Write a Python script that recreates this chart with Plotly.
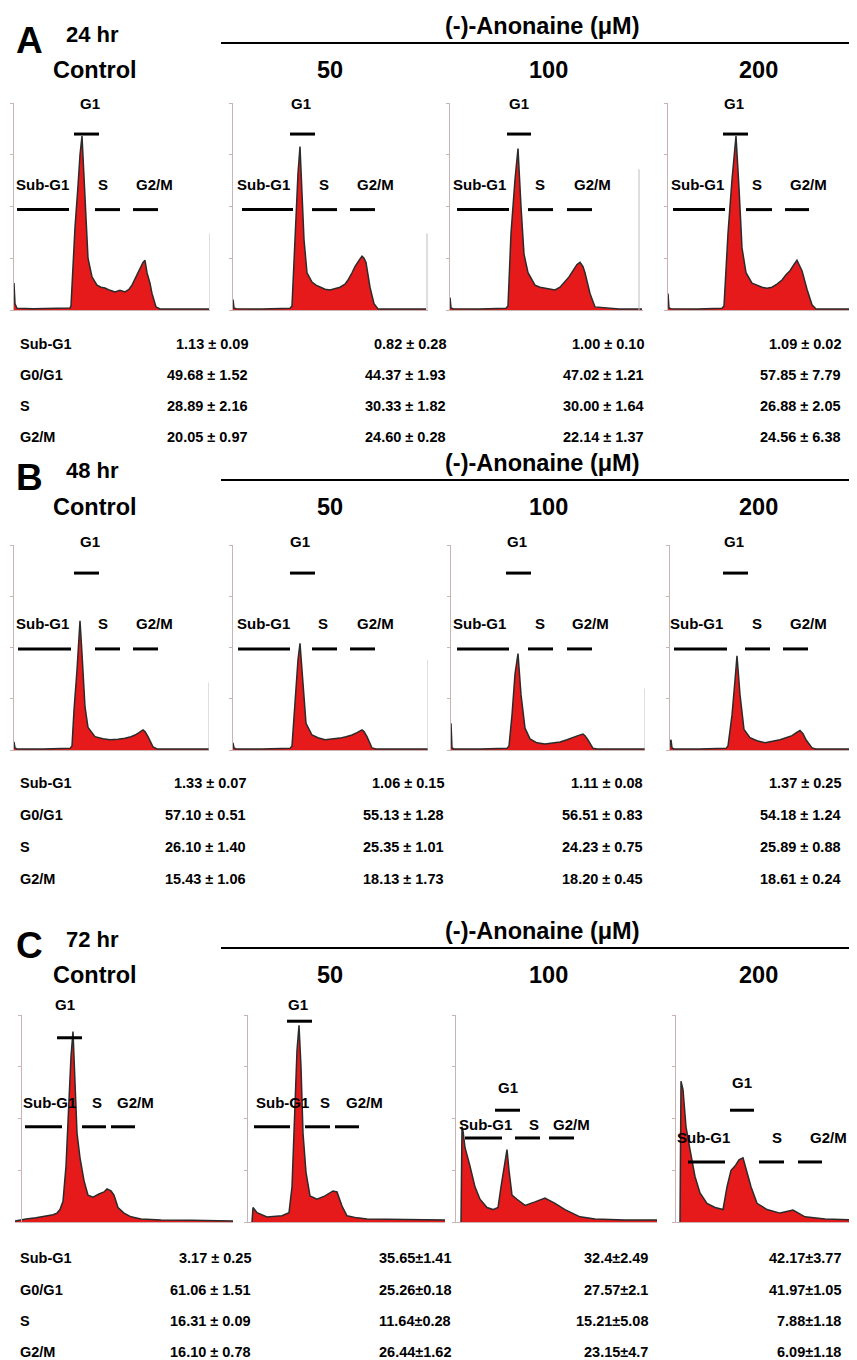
import plotly.graph_objects as go

# ---------------- DATA ----------------
# Histogram data: channel (DNA content, arbitrary units) and counts (% of full scale)
A_CTRL_CH = [0, 1, 2, 4, 20, 40, 57, 58, 60, 62, 65, 67, 69, 71, 73, 75, 79, 84, 88, 92, 97, 102, 107, 112, 116, 119, 122, 125, 128, 130, 132, 134, 137, 139, 143, 147, 170, 196]
A_CTRL_PCT = [0, 13, 3, 0.8, 0.6, 0.8, 1, 2, 20, 40, 60, 75, 84, 65, 40, 25, 16, 12, 11, 10.6, 9.5, 8.7, 9.5, 8.7, 10, 12, 15, 18, 21, 23, 24, 18, 13, 8, 1.5, 0.5, 0.5, 0.5]
A_50_CH = [0, 1, 2, 4, 30, 58, 60, 63, 66, 68, 70, 72, 75, 80, 84, 88, 93, 98, 103, 108, 113, 116, 120, 123, 127, 130, 132, 134, 138, 142, 146, 170, 194]
A_50_PCT = [0, 5, 1, 0.6, 0.5, 0.8, 2, 37, 66, 79, 59, 34, 18, 13.5, 12, 11, 10, 9.7, 10.5, 11, 12.5, 14.5, 18, 21, 24, 26, 25, 23, 11, 3, 0.5, 0.5, 0.5]
A_100_CH = [0, 1, 2, 4, 30, 57, 59, 62, 66, 69, 72, 75, 79, 86, 91, 96, 101, 106, 111, 116, 120, 124, 128, 131, 134, 136, 141, 146, 170, 193]
A_100_PCT = [0, 6, 1, 0.6, 0.5, 0.8, 2, 37, 63, 78, 50, 27, 18, 12, 11, 10.6, 10, 9.7, 11, 13.5, 16, 19, 22, 23, 21, 18, 8, 1.5, 0.5, 0.5]
A_200_CH = [0, 1, 2, 4, 30, 55, 57, 61, 65, 69, 72, 75, 79, 85, 90, 95, 100, 105, 110, 115, 119, 123, 127, 130, 132, 135, 140, 145, 149, 170, 190]
A_200_PCT = [0, 8, 1, 0.6, 0.5, 0.8, 2, 37, 63, 84, 59, 30, 18, 13, 12, 11, 10.5, 11, 12.5, 14.5, 17, 19, 22, 24, 22, 19, 10, 2.5, 0.5, 0.5, 0.5]

B_CTRL_CH = [0, 1, 2, 4, 30, 57, 59, 61, 64, 67, 69, 72, 75, 82, 90, 97, 105, 112, 118, 122, 126, 130, 132, 135, 140, 144, 170, 196]
B_CTRL_PCT = [0, 4, 1, 0.5, 0.5, 0.8, 2, 19.5, 39, 63, 47, 21, 11, 6.5, 5.5, 5, 5.3, 5.7, 6.5, 7.3, 8.5, 9.8, 9, 6.5, 1.5, 0.5, 0.5, 0.5]
B_50_CH = [0, 1, 2, 4, 30, 58, 60, 63, 66, 68, 71, 74, 80, 86, 93, 100, 108, 114, 120, 125, 130, 132, 135, 140, 144, 170, 196]
B_50_PCT = [0, 3.5, 1, 0.5, 0.5, 0.8, 2, 23, 44, 52, 33, 13, 7.3, 6, 5, 5.3, 5.8, 6.5, 7.3, 8.5, 9.8, 9, 6.5, 1, 0.5, 0.5, 0.5]
B_100_CH = [0, 1, 2, 4, 30, 57, 59, 62, 65, 68, 71, 75, 80, 87, 95, 103, 110, 117, 123, 128, 133, 135, 138, 143, 147, 170, 195]
B_100_PCT = [0, 13, 1, 0.5, 0.5, 0.8, 2, 17, 37, 47, 27, 10.7, 5.4, 3.5, 2.9, 3.3, 3.9, 5, 6.3, 7, 7.8, 7, 4.9, 0.8, 0.5, 0.5, 0.5]
B_200_CH = [0, 2, 3, 5, 30, 57, 59, 63, 66, 68, 71, 75, 81, 88, 96, 104, 111, 117, 123, 127, 131, 134, 137, 143, 147, 170, 188]
B_200_PCT = [0, 5, 1, 0.5, 0.5, 0.8, 2, 17, 34, 46, 27, 10, 6, 4.5, 3.5, 4.2, 5, 6, 7, 8.3, 9.5, 8, 5, 1, 0.5, 0.5, 0.5]

C_CTRL_CH = [-6, 5, 15, 25, 32, 36, 39, 42, 45, 48, 50, 52, 54, 56, 59, 63, 67, 72, 78, 83, 86, 90, 93, 97, 103, 110, 120, 140, 170, 212]
C_CTRL_PCT = [0.5, 1.5, 2, 3, 3.5, 4.3, 6, 10, 27, 59, 80, 92, 67, 43, 31, 20, 13, 12, 13.5, 14.5, 16, 15, 13, 7, 4.3, 2.5, 1.5, 1, 0.8, 0.5]
C_50_CH = [5, 6, 10, 20, 35, 42, 45, 48, 50, 52, 54, 56, 59, 63, 70, 78, 82, 86, 90, 95, 100, 110, 120, 150, 198]
C_50_PCT = [0, 7, 4.5, 2.4, 3, 4.5, 17, 59, 83, 95, 75, 43, 24, 12.6, 11, 12.6, 14, 15, 14.5, 7.7, 3, 2, 1.5, 1.2, 1]
C_100_CH = [6, 7, 8, 10, 15, 20, 25, 32, 38, 43, 46, 50, 52, 54, 57, 62, 70, 80, 90, 100, 110, 125, 140, 170, 202]
C_100_PCT = [0, 46, 44, 36, 27, 17, 11, 7, 6, 7, 17, 30, 35, 25, 13, 11, 8, 9.7, 11.6, 9, 6, 2.5, 1.5, 1, 1]
C_200_CH = [5, 6, 8, 11, 15, 20, 25, 32, 40, 48, 52, 56, 60, 64, 68, 72, 76, 82, 92, 105, 118, 130, 150, 182]
C_200_PCT = [0, 68, 64, 46, 35, 22, 14, 9, 7, 6, 17, 25, 27, 30, 31, 24, 17, 9, 6, 4.3, 5.8, 2.5, 1.5, 1]

# last-channel (overflow) counts, % of full scale; None = not visible
A_OVERFLOW = [(197, 37), (195, 37), (190, 68), None]
B_OVERFLOW = [(196, 33), (196, 44), (195, 30), None]

PHASES = ["Sub-G1", "G1", "S", "G2/M"]
# gate marker ranges in channel units: (start, end) per phase
A_GATES = [[(4, 56), (61, 86), (82, 107), (120, 145)],
           [(10, 61), (58, 83), (80, 105), (118, 143)],
           [(8, 60), (58, 82), (79, 104), (118, 143)],
           [(6, 58), (56, 81), (79, 105), (118, 142)]]
B_GATES = [[(5, 58), (61, 86), (82, 107), (120, 145)],
           [(6, 58), (58, 83), (80, 105), (118, 143)],
           [(7, 59), (56, 81), (78, 103), (117, 142)],
           [(5, 58), (54, 79), (76, 101), (114, 139)]]
C_GATES = [[(4, 41), (36, 61), (61, 85), (90, 114)],
           [(7, 43), (40, 65), (58, 83), (88, 112)],
           [(10, 47), (40, 65), (60, 85), (94, 119)],
           [(13, 50), (55, 79), (84, 109), (123, 147)]]

COLUMNS = ["Control", "50", "100", "200"]
TIMES = ["24 hr", "48 hr", "72 hr"]
LETTERS = ["A", "B", "C"]
DRUG = "(-)-Anonaine (\u03bcM)"
ROW_LABELS = ["Sub-G1", "G0/G1", "S", "G2/M"]
A_TABLE = [["1.13 \u00b1 0.09", "0.82 \u00b1 0.28", "1.00 \u00b1 0.10", "1.09 \u00b1 0.02"],
           ["49.68 \u00b1 1.52", "44.37 \u00b1 1.93", "47.02 \u00b1 1.21", "57.85 \u00b1 7.79"],
           ["28.89 \u00b1 2.16", "30.33 \u00b1 1.82", "30.00 \u00b1 1.64", "26.88 \u00b1 2.05"],
           ["20.05 \u00b1 0.97", "24.60 \u00b1 0.28", "22.14 \u00b1 1.37", "24.56 \u00b1 6.38"]]
B_TABLE = [["1.33 \u00b1 0.07", "1.06 \u00b1 0.15", "1.11 \u00b1 0.08", "1.37 \u00b1 0.25"],
           ["57.10 \u00b1 0.51", "55.13 \u00b1 1.28", "56.51 \u00b1 0.83", "54.18 \u00b1 1.24"],
           ["26.10 \u00b1 1.40", "25.35 \u00b1 1.01", "24.23 \u00b1 0.75", "25.89 \u00b1 0.88"],
           ["15.43 \u00b1 1.06", "18.13 \u00b1 1.73", "18.20 \u00b1 0.45", "18.61 \u00b1 0.24"]]
C_TABLE = [["3.17 \u00b1 0.25", "35.65\u00b11.41", "32.4\u00b12.49", "42.17\u00b13.77"],
           ["61.06 \u00b1 1.51", "25.26\u00b10.18", "27.57\u00b12.1", "41.97\u00b11.05"],
           ["16.31 \u00b1 0.09", "11.64\u00b10.28", "15.21\u00b15.08", "7.88\u00b11.18"],
           ["16.10 \u00b1 0.78", "26.44\u00b11.62", "23.15\u00b14.7", "6.09\u00b11.18"]]

HISTS = [[(A_CTRL_CH, A_CTRL_PCT), (A_50_CH, A_50_PCT), (A_100_CH, A_100_PCT), (A_200_CH, A_200_PCT)],
         [(B_CTRL_CH, B_CTRL_PCT), (B_50_CH, B_50_PCT), (B_100_CH, B_100_PCT), (B_200_CH, B_200_PCT)],
         [(C_CTRL_CH, C_CTRL_PCT), (C_50_CH, C_50_PCT), (C_100_CH, C_100_PCT), (C_200_CH, C_200_PCT)]]
OVERFLOWS = [A_OVERFLOW, B_OVERFLOW, [None] * 4]
GATES = [A_GATES, B_GATES, C_GATES]
TABLES = [A_TABLE, B_TABLE, C_TABLE]

# ---------------- LAYOUT (pixels of the 857x1360 page) ----------------
PAGE_W, PAGE_H = 857, 1360
OFF = 8  # default page body margin
W, H = PAGE_W - OFF, PAGE_H - OFF
FONT = "Liberation Sans, Arial, Helvetica, sans-serif"
RED = "#e61a1a"
AXC = "#c9b3b3"

PANELS = [
    dict(dy=0, top=103, base=310,
         plots=[(13, 13, 210), (232, 232, 428), (449, 449, 643), (667, 667, 857)],
         # gate label text positions: (x channel, y pct) and bar heights pct
         text=[[(29, 60.4), (77, 100), (90, 60.4), (141, 60.4)],
               [(31, 60.4), (69, 100), (92, 60.4), (143, 60.4)],
               [(30, 60.4), (70, 100), (91, 60.4), (143, 60.4)],
               [(30, 60.4), (67, 100), (90, 60.4), (141, 60.4)]],
         bary=[[48.5, 85, 48.5, 48.5]] * 4,
         rows=[344, 375, 406, 437], cols=[250, 448, 646, 843]),
    dict(dy=437, top=545, base=750,
         plots=[(13, 13, 209), (232, 232, 428), (450, 450, 645), (669, 669, 857)],
         text=[[(29, 61.5), (77, 101.5), (90, 61.5), (141, 61.5)],
               [(31, 61.5), (68, 101.5), (91, 61.5), (143, 61.5)],
               [(29, 61.5), (67, 101.5), (90, 61.5), (140, 61.5)],
               [(27, 61.5), (65, 101.5), (88, 61.5), (139, 61.5)]],
         bary=[[49.3, 86.3, 49.3, 49.3]] * 4,
         rows=[783, 815, 847, 879], cols=[248, 446, 645, 843]),
    dict(dy=905, top=1015, base=1222,
         plots=[(21, 15, 233), (247, 247, 445), (455, 455, 657), (675, 675, 857)],
         text=[[(28, 57.5), (44, 105), (76, 57.5), (114, 57.5)],
               [(35, 57.5), (51, 105), (78, 57.5), (117, 57.5)],
               [(31, 47), (53, 65), (79, 47), (116, 47)],
               [(28, 41), (67, 67.6), (102, 41), (153, 41)]],
         bary=[[46, 89, 46, 46], [46, 97, 46, 46], [40.6, 54, 40.6, 40.6], [29, 54, 29, 29]],
         rows=[1258, 1290, 1321, 1352], cols=[253, 453, 650, 843]),
]
COL_X = [95, 330, 548, 758]


def px(x):
    return (x - OFF) / W


def py(y):
    return 1 - (y - OFF) / H


fig = go.Figure()
layout = dict(width=W, height=H, margin=dict(l=0, r=0, t=0, b=0, pad=0),
              paper_bgcolor="white", plot_bgcolor="rgba(0,0,0,0)",
              showlegend=False, annotations=[], shapes=[])
ann = layout["annotations"]


def text(s, x, y, size, anchor="center", family=FONT):
    ann.append(dict(text=s, x=px(x), y=py(y), xref="paper", yref="paper",
                    xanchor=anchor, yanchor="middle", showarrow=False,
                    font=dict(family=family, size=size, color="black", weight="bold")))


idx = 0
for p, panel in enumerate(PANELS):
    dy = panel["dy"]
    # header
    text(LETTERS[p], 14, 40 + dy, 37, "left")
    text(TIMES[p], 64, 34 + dy, 22, "left")
    text(DRUG, 542, 26 + dy, 23.5)
    layout["shapes"].append(dict(type="line", xref="paper", yref="paper",
                                 x0=px(221), x1=px(857), y0=py(43 + dy), y1=py(43 + dy),
                                 line=dict(color="black", width=2)))
    for c, name in enumerate(COLUMNS):
        text(name, COL_X[c], 70 + dy, 23.5)

    # histograms
    for c in range(4):
        idx += 1
        axis_px, d0, d1 = panel["plots"][c]
        xname = "xaxis" if idx == 1 else f"xaxis{idx}"
        yname = "yaxis" if idx == 1 else f"yaxis{idx}"
        xr = "x" if idx == 1 else f"x{idx}"
        yr = "y" if idx == 1 else f"y{idx}"
        layout[xname] = dict(domain=[px(d0), min(px(d1), 1)], range=[d0 - axis_px, d1 - axis_px],
                             showgrid=False, zeroline=False, showline=True, linecolor=AXC,
                             linewidth=1, showticklabels=False, ticks="", anchor=yr,
                             fixedrange=True)
        layout[yname] = dict(domain=[py(panel["base"]), py(panel["top"])], range=[0, 100],
                             showgrid=False, zeroline=False, showline=True, linecolor=AXC,
                             linewidth=1, showticklabels=False, ticks="outside", ticklen=3,
                             tickcolor=AXC, tickvals=[0, 25, 50, 75, 100],
                             anchor="free", position=px(axis_px), fixedrange=True)
        ch, pct = HISTS[p][c]
        fig.add_trace(go.Scatter(x=ch, y=pct, xaxis=xr, yaxis=yr, mode="lines",
                                 line=dict(color="#2b2b2b", width=1.5), fill="tozeroy",
                                 fillcolor=RED, hoverinfo="skip"))
        ov = OVERFLOWS[p][c]
        if ov is not None:
            fig.add_trace(go.Scatter(x=[ov[0], ov[0]], y=[0, ov[1]], xaxis=xr, yaxis=yr,
                                     mode="lines", line=dict(color="#bdbdbd", width=1),
                                     hoverinfo="skip"))
        gx, gy = [], []
        for g, (a, b) in enumerate(GATES[p][c]):
            h = panel["bary"][c][g]
            gx += [a, b, None]
            gy += [h, h, None]
            tx, ty = panel["text"][c][g]
            ann.append(dict(text=PHASES[g], x=tx, y=ty / 100, xref=xr, yref=f"{yr} domain",
                            xanchor="center", yanchor="middle", showarrow=False,
                            font=dict(family=FONT, size=15, color="black", weight="bold")))
        fig.add_trace(go.Scatter(x=gx, y=gy, xaxis=xr, yaxis=yr, mode="lines",
                                 line=dict(color="black", width=3), cliponaxis=False,
                                 hoverinfo="skip"))

    # table
    for r, lab in enumerate(ROW_LABELS):
        yy = panel["rows"][r]
        text(lab, 18, yy, 14.5, "left")
        for c in range(4):
            text(TABLES[p][r][c], panel["cols"][c], yy, 14.5, "right")

fig.update_layout(**layout)
fig.write_html("out.html")
